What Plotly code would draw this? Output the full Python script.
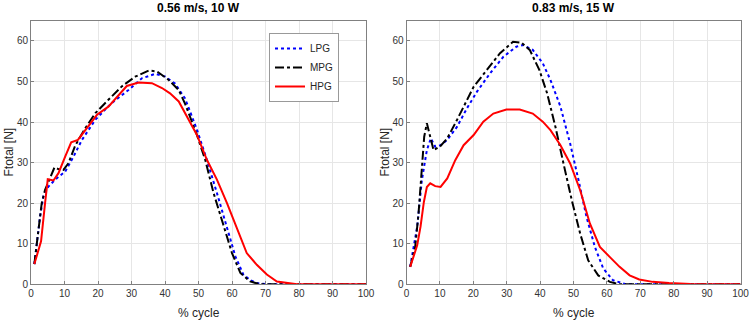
import plotly.graph_objects as go

# ---------------- data ----------------
titles = ["0.56 m/s, 10 W", "0.83 m/s, 15 W"]
series_names = ["LPG", "MPG", "HPG"]

# Left panel (0.56 m/s, 10 W)
l_lpg_x = [1, 2.7, 3.7, 5.2, 7.2, 10.2, 12.7, 15.2, 19.2, 24.1, 29.1, 33.1, 37.1, 40.1, 43, 46, 49.5, 52.5, 55.5, 58.5, 61, 63.4, 65.5, 67.4, 70.4, 75, 100]
l_lpg_y = [5, 16.7, 21.7, 24.1, 25.8, 27.8, 31.5, 35.6, 40.6, 44.7, 47.9, 50.8, 51.9, 51.2, 49.5, 45.8, 38.2, 30.7, 22.5, 14.3, 6.9, 2.4, 1.0, 0.3, 0, 0, 0]

l_mpg_x = [1, 2.2, 3.2, 4.2, 5.7, 7.0, 8.2, 9.7, 11.2, 13.2, 16.2, 19.2, 23.1, 27.1, 31.1, 35.1, 37.6, 41.1, 44.1, 46, 49.5, 52, 54.5, 57.5, 60, 62.5, 65.4, 68.4, 100]
l_mpg_y = [5, 12.6, 20, 23.3, 26.2, 28.8, 28.4, 28.2, 29.9, 34.2, 38.5, 42.2, 45.5, 48.8, 51.2, 52.7, 52.5, 50.4, 47.9, 44.5, 36.9, 30.7, 22.5, 14.3, 7.7, 2.8, 0.7, 0, 0]

l_hpg_x = [1, 3.0, 4.2, 5.0, 6.7, 8.2, 10.2, 12, 14, 16.7, 19.7, 23.1, 26.1, 28.6, 32.1, 36.1, 39.1, 41.5, 44.1, 45.5, 49.5, 52.5, 55.5, 58.5, 61.5, 64.4, 67.4, 70.4, 73.4, 76.4, 79.4, 100]
l_hpg_y = [5, 10.6, 20, 25.9, 25.6, 27.4, 31.5, 35, 35.6, 38.5, 41.8, 43.8, 46.5, 48.9, 49.75, 49.6, 48.4, 47.1, 45.1, 43.0, 36.9, 30.7, 25.8, 20.0, 13.5, 7.7, 4.8, 2.4, 0.7, 0.3, 0, 0]

# Right panel (0.83 m/s, 15 W)
r_lpg_x = [1.1, 3.2, 4.6, 6.1, 7.3, 8.6, 10.2, 12.2, 15.1, 18.1, 21.1, 25, 29, 32.9, 34.9, 37.8, 40.8, 43.1, 46.1, 49, 51.5, 53.9, 56.4, 58.9, 61.8, 65.8, 100]
r_lpg_y = [4.3, 14.2, 25.7, 33.1, 36, 33.9, 34.3, 35.6, 38.8, 43.4, 47.5, 52, 56.1, 58.6, 59, 57.8, 54.5, 50.4, 43.8, 34.7, 25.7, 16.6, 9.2, 3.9, 1.0, 0, 0]

r_mpg_x = [1.1, 2.6, 3.6, 4.6, 5.3, 6.1, 6.9, 8.1, 10.2, 12.2, 15.1, 17.6, 20.1, 24, 28, 31.9, 34.4, 36.9, 39.8, 42.1, 44.6, 47, 49.5, 52, 54.4, 57.4, 60.9, 63.8, 100]
r_mpg_y = [4.3, 9.2, 17.4, 28.1, 36.4, 39.7, 37.2, 33.1, 34.1, 36, 40.5, 44.6, 48.7, 52.8, 57, 59.8, 59.6, 57.8, 52.8, 47.1, 38.8, 29.8, 20.7, 12.5, 5.9, 2.2, 0.6, 0, 0]

r_hpg_x = [1.1, 3.2, 4.2, 5.2, 6.1, 7.1, 8.6, 10.2, 12.2, 14.6, 17.1, 20.1, 23, 26, 29.9, 33.9, 37.8, 40.8, 43.1, 46.1, 49, 52, 54.9, 57.9, 60.9, 63.8, 66.8, 69.7, 73.7, 78.6, 85, 100]
r_hpg_y = [4.3, 9.6, 14.2, 20.3, 24, 24.9, 24.2, 24, 26.1, 30.6, 34.3, 36.8, 40.1, 42.1, 43.1, 43.1, 42.1, 40.1, 38, 34.3, 29.8, 23.2, 15, 9.2, 6.7, 4.3, 2.2, 1.2, 0.6, 0.3, 0.1, 0]

x_ticks = [0, 10, 20, 30, 40, 50, 60, 70, 80, 90, 100]
y_ticks = [0, 10, 20, 30, 40, 50, 60]

# ---------------- styles ----------------
styles = {
    "LPG": dict(color="#0000FF", dash="dot", width=2),
    "MPG": dict(color="#000000", dash="dashdot", width=2),
    "HPG": dict(color="#FF0000", dash="solid", width=2),
}

panels = [
    [(l_lpg_x, l_lpg_y), (l_mpg_x, l_mpg_y), (l_hpg_x, l_hpg_y)],
    [(r_lpg_x, r_lpg_y), (r_mpg_x, r_mpg_y), (r_hpg_x, r_hpg_y)],
]

fig = go.Figure()
for pi, panel in enumerate(panels):
    xa = "x" if pi == 0 else "x2"
    ya = "y" if pi == 0 else "y2"
    for name, (xs, ys) in zip(series_names, panel):
        fig.add_trace(go.Scatter(
            x=xs, y=ys, mode="lines", name=name,
            line=styles[name], xaxis=xa, yaxis=ya,
            showlegend=(pi == 0),
        ))

font_family = "Liberation Sans, Arial, sans-serif"
W, H = 750, 321
x_doms = [[31 / W, 366 / W], [406.5 / W, 740.5 / W]]
y_dom = [1 - 284.3 / H, 1 - 20.7 / H]

axis_common = dict(
    showgrid=True, gridcolor="#E6E6E6", gridwidth=1,
    showline=True, linecolor="#808080", linewidth=1, mirror=True,
    ticks="inside", ticklen=3, tickcolor="#808080",
    tickfont=dict(family=font_family, size=10, color="#333333"),
    zeroline=False, fixedrange=True, automargin=False,
)

layout = dict(
    width=W, height=H,
    margin=dict(l=0, r=0, t=0, b=0, pad=0, autoexpand=False),
    paper_bgcolor="white", plot_bgcolor="white",
    font=dict(family=font_family, color="#262626"),
    hovermode=False,
    legend=dict(
        x=339 / W, xanchor="right", y=1 - 33 / H, yanchor="top",
        bgcolor="white", bordercolor="#999999", borderwidth=1,
        font=dict(family=font_family, size=10, color="#262626"),
        tracegroupgap=0, itemwidth=30,
    ),
    annotations=[],
)
for i in range(2):
    sfx = "" if i == 0 else "2"
    layout["xaxis" + sfx] = dict(axis_common, domain=x_doms[i], range=[0, 100],
                                 tickvals=x_ticks, anchor="y" + sfx)
    layout["yaxis" + sfx] = dict(axis_common, domain=y_dom, range=[0, 65],
                                 tickvals=y_ticks, anchor="x" + sfx)
    cx = (x_doms[i][0] + x_doms[i][1]) / 2
    layout["annotations"].append(dict(
        text="<b>" + titles[i] + "</b>", x=cx, y=1 - 8 / H, xref="paper", yref="paper",
        xanchor="center", yanchor="middle", showarrow=False,
        font=dict(family=font_family, size=12, color="#000000")))
    layout["annotations"].append(dict(
        text="% cycle", x=cx, y=1 - 313 / H, xref="paper", yref="paper",
        xanchor="center", yanchor="middle", showarrow=False,
        font=dict(family=font_family, size=12, color="#262626")))
    layout["annotations"].append(dict(
        text="Ftotal [N]", x=(8 if i == 0 else 384) / W, y=(y_dom[0] + y_dom[1]) / 2,
        xref="paper", yref="paper", textangle=-90,
        xanchor="center", yanchor="middle", showarrow=False,
        font=dict(family=font_family, size=12, color="#262626")))

fig.update_layout(**layout)
fig.write_html(
    "out.html",
    config={"displayModeBar": False, "staticPlot": True},
    post_script="document.body.style.margin='0';document.body.style.overflow='hidden';",
)
